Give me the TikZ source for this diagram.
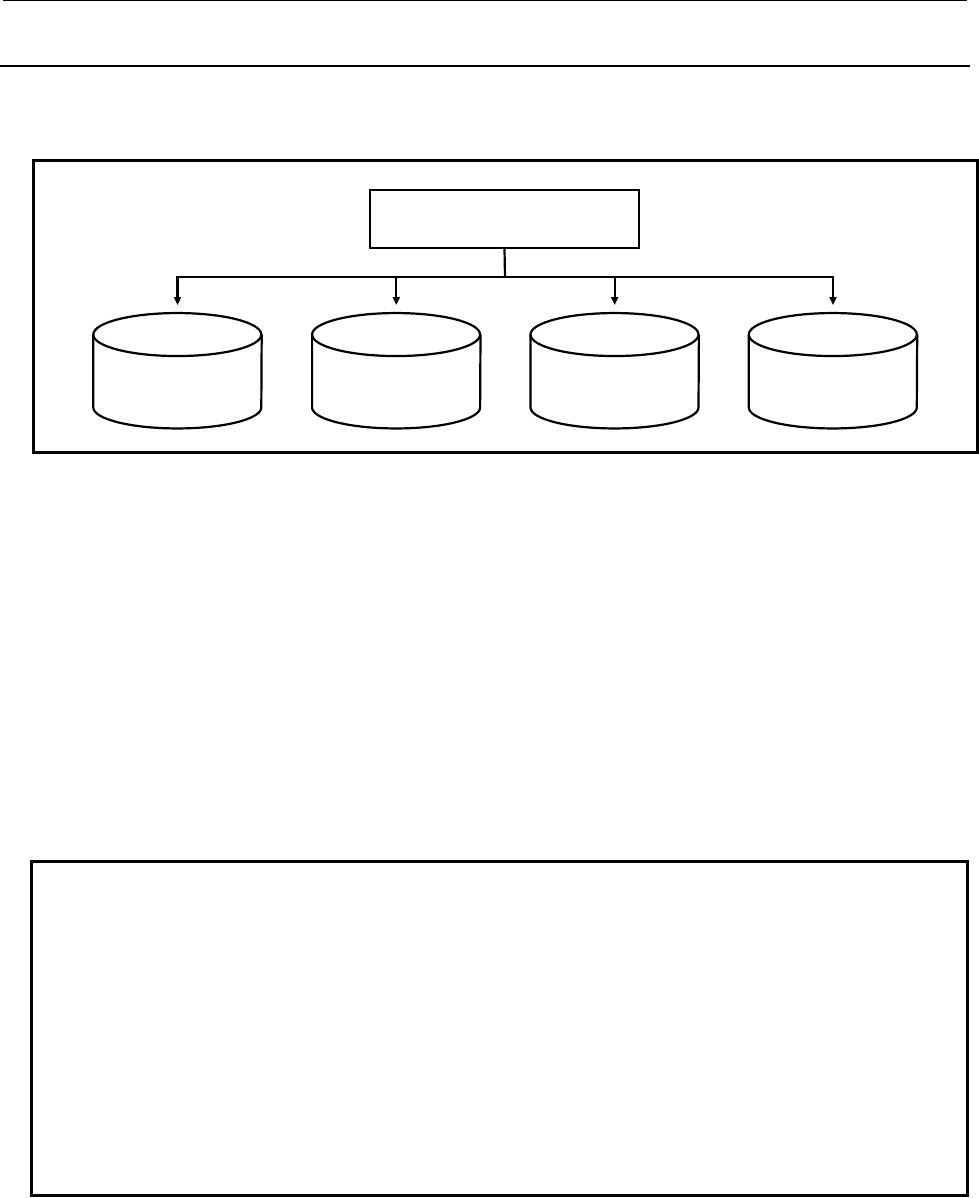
\documentclass[tikz,border=0pt]{standalone}
\usetikzlibrary{arrows.meta,calc}
\begin{document}
\begin{tikzpicture}[x=1pt,y=-1pt,
  frame/.style={draw,line width=3pt,inner sep=0pt,minimum width=#1},
  topbox/.style={draw,line width=2.3pt,inner sep=0pt,minimum width=269pt,minimum height=58pt},
  cylslot/.style={inner sep=0pt,minimum width=168pt,minimum height=115pt},
  cyl/.style={line width=2.2pt},
  conn/.style={line width=2.2pt},
  arr/.style={conn,-{Triangle[length=8pt,width=7pt]}},
  rule/.style={line width=2.7pt}
]
\useasboundingbox (0,0) rectangle (978,1198);
% header rules
\draw[rule] (3,0) -- (967,0);
\draw[rule] (0,66) -- (970,66);
% frames
\node[frame=944pt,minimum height=291pt] (frameA) at (505,306.5) {};
\node[frame=935.5pt,minimum height=334.3pt] (frameB) at (499.25,1028.65) {};
% top box
\node[topbox] (top) at (504.5,219) {};
% cylinder slots (bounding boxes of the cylinders)
\foreach \i/\cx in {1/177.5,2/396.3,3/614.7,4/833} {
  \node[cylslot] (c\i) at (\cx,370.75) {};
  \draw[cyl] ($(c\i.north west)+(0,21.5)$) arc[start angle=180,end angle=-180,x radius=84pt,y radius=21.5pt];
  \draw[cyl] ($(c\i.north west)+(0,21.5)$) -- ($(c\i.south west)+(0,-21)$)
     arc[start angle=180,end angle=360,x radius=84pt,y radius=21pt]
     -- ($(c\i.north east)+(0,21.5)$);
}
% connectors
\coordinate (bus) at (505,277);
\draw[conn] (top.south) -- (bus);
\foreach \i in {1,2,3,4} {
  \draw[arr] (bus) -| ($(c\i.north)+(0,-8)$);
}
\end{tikzpicture}
\end{document}
